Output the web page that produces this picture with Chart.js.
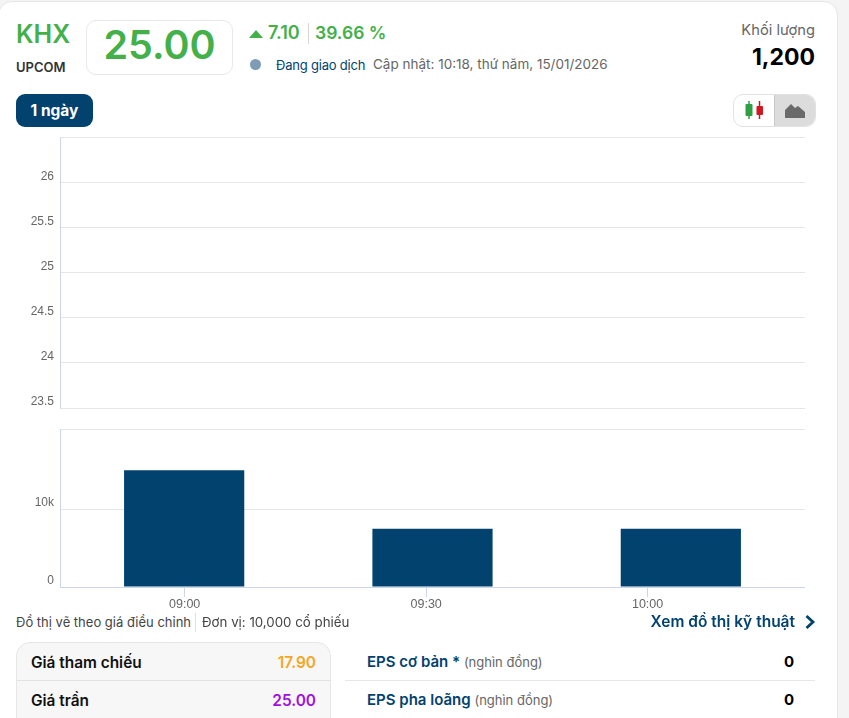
<!DOCTYPE html>
<html lang="vi">
<head>
<meta charset="utf-8">
<title>KHX</title>
<script src="https://cdn.jsdelivr.net/npm/chart.js@4"></script>
<style>
html, body { margin: 0; padding: 0; width: 849px; height: 718px; overflow: hidden; background: #f4f4f4; font-family: Inter, sans-serif; }
#card { position: absolute; left: -2px; top: 1px; width: 838px; height: 740px; background: #fff; border: 1px solid #e6e6e6; border-radius: 14px; }
.t { position: absolute; white-space: nowrap; line-height: 1; }
.r { text-align: right; }
.box { position: absolute; box-sizing: border-box; }
canvas { position: absolute; }
.green { color: #43b04a; }
.navy { color: #02426f; }
</style>
</head>
<body>
<div id="card"></div>

<div class="t green" style="left:16px;top:22px;font-size:25px;font-weight:600">KHX</div>
<div class="t" style="left:16px;top:61px;font-size:13px;font-weight:600;color:#333">UPCOM</div>
<div class="box" style="left:86px;top:20px;width:147px;height:55px;border:1px solid #e8e8e8;border-radius:10px"></div>
<div class="t green" style="left:86px;width:147px;text-align:center;top:26px;font-size:39.500px;font-weight:600">25.00</div>

<svg class="box" style="left:249px;top:30px" width="15" height="9"><path d="M7 0L14 8H0Z" fill="#43b04a"/></svg>
<div class="t green" style="left:268px;top:24px;font-size:18px;font-weight:600">7.10</div>
<div class="box" style="left:308px;top:23px;width:1px;height:21px;background:#d8d8d8"></div>
<div class="t green" style="left:315px;top:24px;font-size:17.500px;font-weight:600">39.66 %</div>

<div class="box" style="left:250px;top:59px;width:11px;height:11px;border-radius:50%;background:#7e9cb8"></div>
<div class="t navy" style="left:276px;top:59px;font-size:13px;letter-spacing:-0.2px">Đang giao dịch</div>
<div class="t" style="left:373px;top:58px;font-size:13.500px;color:#666">Cập nhật: 10:18, thứ năm, 15/01/2026</div>

<div class="t r" style="right:34px;top:23px;font-size:14.700px;color:#666">Khối lượng</div>
<div class="t r" style="right:34px;top:46px;font-size:23px;font-weight:700;color:#000">1,200</div>

<div class="box" style="left:16px;top:94px;width:77px;height:33px;border-radius:9px;background:#02426f"></div>
<div class="t" style="left:16px;width:77px;text-align:center;top:103px;font-size:15.500px;font-weight:700;color:#fff">1 ngày</div>

<div class="box" style="left:733px;top:94px;width:83px;height:33px;border:1px solid #e2e2e2;border-radius:10px;overflow:hidden">
  <div class="box" style="left:40px;top:0;width:43px;height:33px;background:#dcdcdc;border-left:1px solid #c8c8c8"></div>
</div>
<svg class="box" style="left:744px;top:100px" width="22" height="20">
  <path d="M5 1V19" stroke="#2ea043" stroke-width="1.5"/><rect x="1.5" y="4" width="7" height="12" rx="1" fill="#2ea043"/>
  <path d="M15.500 1V19" stroke="#d0161f" stroke-width="1.500"/><rect x="12.500" y="6" width="6.500" height="9" rx="1" fill="#d0161f"/>
</svg>
<svg class="box" style="left:784px;top:102px" width="22" height="17">
  <path d="M1 16V8L7 2L11 6L14 4L21 10V16Z" fill="#6a6a6a"/>
</svg>

<canvas id="chartGia"></canvas>
<canvas id="chartKhoiLuong"></canvas>

<div class="t" style="left:16px;top:616px;font-size:13px;color:#444">Đồ thị vẽ theo giá điều chỉnh</div>
<div class="box" style="left:195px;top:613px;width:1px;height:19px;background:#dedede"></div>
<div class="t" style="left:202px;top:616px;font-size:13.300px;color:#444">Đơn vị: 10,000 cổ phiếu</div>
<div class="t r navy" style="right:54px;top:614px;font-size:15.500px;font-weight:600">Xem đồ thị kỹ thuật</div>
<svg class="box" style="left:804px;top:614px" width="12" height="16"><path d="M2.500 2L9 8L2.500 14" fill="none" stroke="#02426f" stroke-width="2.800"/></svg>

<div class="box" style="left:16px;top:642px;width:315px;height:100px;background:#f7f7f7;border:1px solid #e6e6e6;border-radius:14px"></div>
<div class="box" style="left:17px;top:680px;width:313px;height:1px;background:#e2e2e2"></div>
<div class="t" style="left:31px;top:655px;font-size:15.400px;font-weight:600;color:#111">Giá tham chiếu</div>
<div class="t r" style="right:533px;top:655px;font-size:15.400px;font-weight:600;color:#f5a623">17.90</div>
<div class="t" style="left:31px;top:693px;font-size:15.400px;font-weight:600;color:#111">Giá trần</div>
<div class="t r" style="right:533px;top:693px;font-size:15.400px;font-weight:600;color:#a010e0">25.00</div>

<div class="box" style="left:345px;top:680px;width:470px;height:1px;background:#e6e6e6"></div>
<div class="t navy" style="left:367px;top:654px;font-size:15px;font-weight:600">EPS cơ bản * <span style="font-size:13px;font-weight:400;color:#666">(nghìn đồng)</span></div>
<div class="t r" style="right:55px;top:654px;font-size:15px;font-weight:700;color:#000">0</div>
<div class="t navy" style="left:367px;top:692px;font-size:15px;font-weight:600">EPS pha loãng <span style="font-size:13px;font-weight:400;color:#666">(nghìn đồng)</span></div>
<div class="t r" style="right:55px;top:692px;font-size:15px;font-weight:700;color:#000">0</div>

<script>
// du lieu doc tu hinh
const gioGiaoDich = ['09:00', '09:30', '10:00'];
const khoiLuong = [15000, 7500, 7500];
const giaKhop = [];

const mocGia = [23.5, 24, 24.5, 25, 25.5, 26, 26.5];
const nhanGia = ['23.5', '24', '24.5', '25', '25.5', '26', ''];
const mocKhoiLuong = [0, 10000, 20250];
const nhanKhoiLuong = ['0', '10k', ''];
// vach gio tren truc, doc tu hinh (khong deu va khong trung tam cot)
const mocPhut = [540, 571.3, 600];

const MAU_LUOI = '#e6e6e6';
const MAU_TRUC = '#ccd6eb';
const MAU_CHU = '#666666';
const FONT_TRUC = 'Liberation Sans';

function datCanvas(id, top, height) {
    const el = document.getElementById(id);
    el.style.left = '0px';
    el.style.top = top + 'px';
    el.style.width = '805px';
    el.style.height = height + 'px';
    el.width = 805;
    el.height = height;
    return el;
}

function trucY(moc, nhan) {
    return {
        min: moc[0],
        max: moc[moc.length - 1],
        afterBuildTicks: function(scale) {
            scale.ticks = moc.map(v => ({ value: v }));
        },
        afterFit: function(scale) {
            scale.width = 60;
        },
        grid: { color: MAU_LUOI, drawTicks: false },
        border: { color: MAU_TRUC },
        ticks: {
            align: 'end',
            padding: 6,
            color: MAU_CHU,
            font: { family: FONT_TRUC, size: 12 },
            callback: function(value) {
                return nhan[moc.indexOf(value)];
            }
        }
    };
}

new Chart(datCanvas('chartGia', 117, 297), {
    type: 'line',
    data: {
        labels: gioGiaoDich,
        datasets: [{ label: 'Giá', data: giaKhop, borderColor: '#02426f', pointRadius: 0 }]
    },
    options: {
        responsive: false,
        animation: false,
        plugins: { legend: { display: false }, tooltip: { enabled: false } },
        scales: {
            x: { display: false },
            y: trucY(mocGia, nhanGia)
        }
    }
});

new Chart(datCanvas('chartKhoiLuong', 409, 203), {
    type: 'bar',
    data: {
        labels: gioGiaoDich,
        datasets: [{
            label: 'Khối lượng',
            data: khoiLuong,
            backgroundColor: '#02426f',
            barPercentage: 0.484,
            categoryPercentage: 1,
            xAxisID: 'x',
            yAxisID: 'y'
        }]
    },
    options: {
        responsive: false,
        animation: false,
        plugins: { legend: { display: false }, tooltip: { enabled: false } },
        scales: {
            x: { display: false },
            truc_gio: {
                type: 'linear',
                position: 'bottom',
                offset: false,
                min: 523.84,
                max: 620.4,
                afterBuildTicks: function(scale) {
                    scale.ticks = mocPhut.map(v => ({ value: v }));
                },
                grid: { offset: false, drawOnChartArea: false, tickLength: 10, tickColor: MAU_TRUC },
                border: { color: MAU_TRUC },
                ticks: {
                    padding: 0,
                    maxRotation: 0,
                    color: MAU_CHU,
                    font: { family: FONT_TRUC, size: 12.500 },
                    callback: function(value) {
                        return gioGiaoDich[mocPhut.indexOf(value)];
                    }
                }
            },
            y: trucY(mocKhoiLuong, nhanKhoiLuong)
        }
    }
});
</script>
</body>
</html>
